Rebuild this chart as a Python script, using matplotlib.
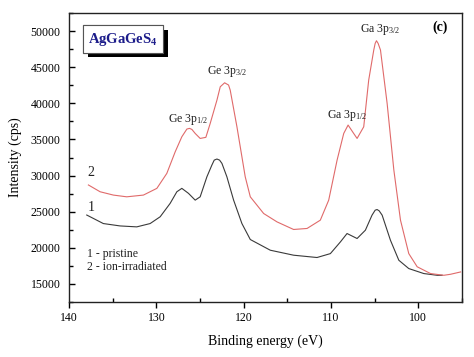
import matplotlib
matplotlib.use("Agg")
import matplotlib.pyplot as plt
from matplotlib.ticker import MultipleLocator
import matplotlib.patheffects as pe

plt.rcParams['font.family'] = ['Liberation Serif', 'DejaVu Serif']
plt.rcParams['mathtext.fontset'] = 'custom'
plt.rcParams['mathtext.rm'] = 'Liberation Serif'
plt.rcParams['mathtext.bf'] = 'Liberation Serif:bold'
plt.rcParams['mathtext.default'] = 'regular'

# 1 - pristine
be_pristine = [137.97, 136.07, 134.15, 132.24, 130.71, 129.56, 128.42, 127.65, 127.08,
               126.32, 125.55, 124.98, 124.21, 123.64, 123.37, 123.06, 122.76, 122.49,
               121.92, 121.15, 120.20, 119.24, 116.95, 114.28, 111.60, 110.07, 108.92,
               108.16, 107.01, 106.06, 105.30, 104.94, 104.72, 104.48, 104.14, 103.19,
               102.23, 101.09, 99.37, 97.84, 97.27]
int_pristine = [24540, 23360, 23030, 22900, 23360, 24300, 26150, 27760, 28230,
                27540, 26600, 27060, 29830, 31450, 32140, 32290, 32140, 31690,
                29830, 26600, 23360, 21150, 19670, 18980, 18660, 19200, 20820,
                21980, 21290, 22440, 24520, 25210, 25300, 25120, 24520, 21050,
                18280, 17130, 16440, 16200, 16200]

# 2 - ion-irradiated
be_irr = [137.78, 136.44, 134.92, 133.39, 131.48, 129.94, 128.80, 127.84, 127.08,
          126.50, 126.20, 125.93, 125.55, 124.98, 124.33, 123.83, 123.06, 122.68,
          122.18, 121.73, 121.54, 120.77, 119.82, 119.24, 117.71, 116.18, 114.28,
          112.74, 111.22, 110.26, 109.30, 108.54, 108.04, 107.40, 107.01, 106.25,
          105.68, 105.10, 104.94, 104.79, 104.60, 104.33, 103.57, 102.80, 102.04,
          101.09, 100.13, 98.60, 97.08, 96.31, 95.16]
int_irr = [28700, 27760, 27300, 27060, 27300, 28230, 30300, 33290, 35370,
           36440, 36530, 36390, 35830, 35140, 35290, 37220, 40440, 42290,
           42840, 42530, 41830, 36750, 29830, 27060, 24750, 23590, 22540,
           22680, 23830, 26600, 32140, 35830, 36990, 35830, 35140, 36750,
           43210, 47370, 48290, 48660, 48290, 47370, 39990, 30760, 23830,
           19200, 17380, 16440, 16200, 16340, 16660]

peak_labels = ["Ge 3p$_{1/2}$", "Ge 3p$_{3/2}$", "Ga 3p$_{1/2}$", "Ga 3p$_{3/2}$"]
peak_pos = [(126.4, 37700), (121.9, 44400), (108.1, 38300), (104.4, 50150)]

fig = plt.figure(figsize=(4.74, 3.57), dpi=100)
ax = fig.add_axes([0.1456, 0.154, 0.829, 0.8096])

ax.plot(be_pristine, int_pristine, color='#3a3a3a', lw=0.8)
ax.plot(be_irr, int_irr, color='#e06a6a', lw=0.8)

ax.set_xlim(140, 95)
ax.set_ylim(12500, 52500)
ax.xaxis.set_major_locator(MultipleLocator(10))
ax.xaxis.set_minor_locator(MultipleLocator(5))
ax.yaxis.set_major_locator(MultipleLocator(5000))
ax.yaxis.set_minor_locator(MultipleLocator(2500))
ax.tick_params(axis='x', which='major', direction='out', length=4, width=1, labelsize=8.5, pad=3)
ax.tick_params(axis='x', which='minor', direction='in', length=3, width=1)
ax.tick_params(axis='y', which='major', direction='in', length=4, width=1, labelsize=8.5, pad=6)
ax.tick_params(axis='y', which='minor', direction='in', length=3, width=1)
for s in ax.spines.values():
    s.set_linewidth(1.0)
    s.set_color('#222222')

ax.set_xlabel("Binding energy (eV)", fontsize=10, labelpad=8)
ax.set_ylabel("Intensity (cps)", fontsize=10, labelpad=6)

for lab, (x, y) in zip(peak_labels, peak_pos):
    ax.text(x, y, lab, fontsize=8.5, ha='center', va='center', color='#222222')

ax.text(137.9, 25600, "1", fontsize=10, ha='left', va='center', color='#222222')
ax.text(137.9, 30400, "2", fontsize=10, ha='left', va='center', color='#222222')
ax.text(137.9, 19200, "1 - pristine", fontsize=8.5, ha='left', va='center', color='#222222')
ax.text(137.9, 17300, "2 - ion-irradiated", fontsize=8.5, ha='left', va='center', color='#222222')

ax.text(0.945, 0.95, "(c)", transform=ax.transAxes, fontsize=10, fontweight='bold',
        ha='center', va='center')

t = ax.text(0.137, 0.91, r"AgGaGeS$_{\mathbf{4}}$", transform=ax.transAxes, fontsize=10.5,
            fontweight='bold', color='#1c1c8a', ha='center', va='center',
            bbox=dict(boxstyle='square,pad=0.35', fc='white', ec='#555555', lw=0.8))
t.get_bbox_patch().set_path_effects([pe.withSimplePatchShadow(offset=(3.5, -3.5),
                                                              shadow_rgbFace='black', alpha=1.0),
                                     pe.Normal()])

fig.savefig("out.png", dpi=100)
